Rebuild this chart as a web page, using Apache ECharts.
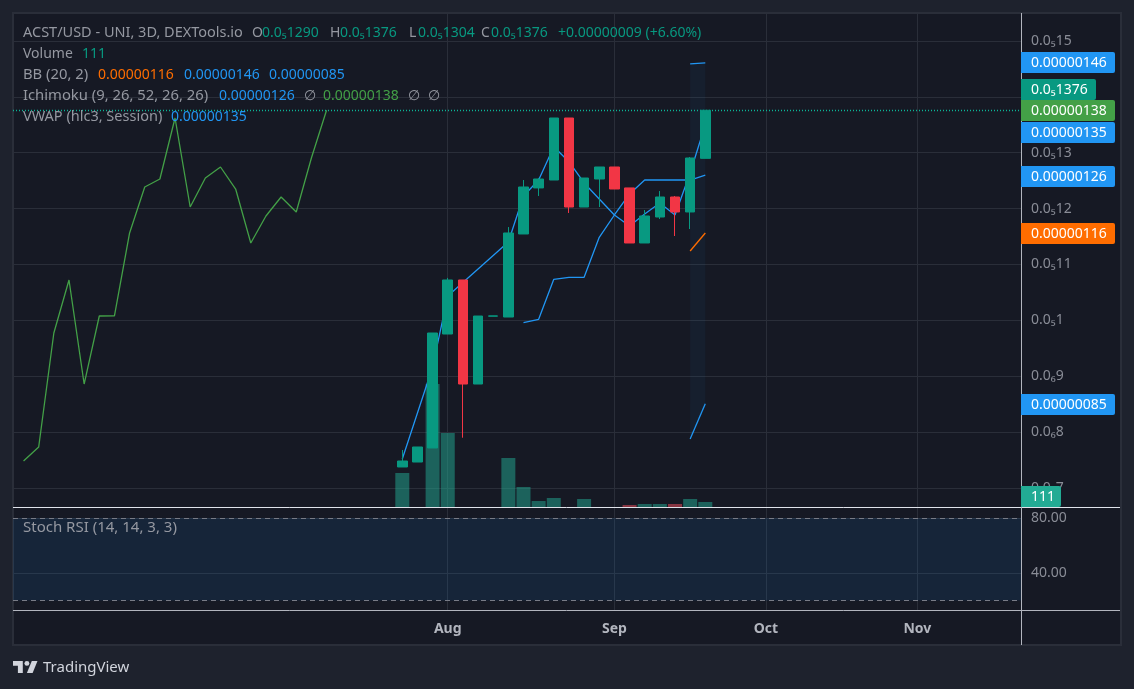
<!DOCTYPE html>
<html>
<head>
<meta charset="utf-8">
<title>ACST/USD</title>
<script src="https://cdn.jsdelivr.net/npm/echarts@6/dist/echarts.min.js"></script>
<style>
html,body{margin:0;padding:0;background:#1e222d;}
#chart{width:1134px;height:689px;}
</style>
</head>
<body>
<div id="chart"></div>
<script>
// prices are in units of 0.00000001
var barIndex = [1,2,3,4,5,6,7,8,9,10,11,12,13,14,15,16,17,18,19,20,21];
var opens  = [73.76,74.65,77.16,97.56,107.23,88.61,100.75,100.6,115.46,123.7,125.12,136.22,120.29,125.3,127.45,123.7,113.85,118.5,122.08,119.4,129.0];
var closes = [74.83,77.34,97.74,107.23,88.61,100.78,100.8,115.64,123.87,125.3,136.22,120.29,125.48,127.45,123.51,113.85,118.68,122.08,119.4,129.06,137.6];
var lows   = [73.76,74.65,77.16,97.56,79.0,88.61,100.75,100.6,115.46,122.26,125.12,119.22,120.29,120.29,123.51,113.85,113.85,118.14,115.1,116.35,129.0];
var highs  = [76.8,77.34,97.74,107.6,107.23,100.78,100.8,116.7,125.12,125.5,136.22,136.22,125.48,127.45,127.45,123.7,119.75,123.15,122.26,129.24,137.6];
var volumes = [755,null,2730,1643,null,null,null,1088,444,133,200,null,178,null,null,44,67,67,67,178,111];

var vwap = [75.19,null,91.66,104.36,null,null,null,114.03,122.26,125.12,131.08,128.4,124.59,121.72,118.86,116.89,119.04,121.01,118.86,126.38,135];
var ichimokuConv = [null,null,null,null,null,null,null,null,99.58,100.19,107.35,107.71,107.71,114.87,118.86,122.62,125.12,125.12,125.12,125.12,126];
var bbUpper = [145.9,146.1];
var bbBasis = [112.42,115.64];
var bbLower = [78.77,85.09];
var bbBars = [20,21];
var laggingShift = 25;

var priceTicks  = [70,80,90,100,110,120,130,140,150];
var priceLabels = ['0.0₆7','0.0₆8','0.0₆9','0.0₅1','0.0₅11','0.0₅12','0.0₅13','','0.0₅15'];
var monthBars   = [4,15,25,35];
var monthLabels = ['Aug','Sep','Oct','Nov'];
var stochTicks  = [40,80];
var stochLabels = ['40.00','80.00'];

var FONT = '"Noto Sans", sans-serif';
var BLUE = '#2196f3', ORANGE = '#ff6d00', GREEN = '#43a047', TEAL = '#089981', RED = '#f23645', GREY = '#9598a1';
var GRID = '#2a2e39';

var myChart = echarts.init(document.getElementById('chart'));

function txt(x, y, s, color, size) {
	return {type: 'text', x: x, y: y + 1, z: 101, silent: true,
		style: {text: s, fill: color || GREY, font: (size || 14) + 'px ' + FONT, verticalAlign: 'middle'}};
}
function tag(y, w, s, color) {
	return [
		{type: 'rect', z: 100, silent: true, shape: {x: 1021, y: y - 10.5, width: w, height: 21, r: [0, 2, 2, 0]}, style: {fill: color}},
		txt(1031, y, s, '#ffffff')
	];
}
function hline(x1, y, x2, color) {
	return {type: 'line', z: 99, silent: true, shape: {x1: x1, y1: y, x2: x2, y2: y}, style: {stroke: color, lineWidth: 1}};
}

var graphics = [
	{type: 'rect', z: -1, silent: true, shape: {x: 13, y: 13, width: 1108, height: 632}, style: {fill: '#161924', stroke: GRID, lineWidth: 2}},
	hline(13, 507.5, 1120, '#e0e3eb'),
	hline(13, 610.5, 1120, '#b2b5be'),
	{type: 'line', z: 99, silent: true, shape: {x1: 1021.5, y1: 13, x2: 1021.5, y2: 645}, style: {stroke: '#b2b5be', lineWidth: 1}},
	{type: 'polygon', z: 100, silent: true, shape: {points: [[22.8,661],[13,661],[13,665.8],[17.9,665.8],[17.9,673],[22.8,673]]}, style: {fill: '#d1d4dc'}},
	{type: 'polygon', z: 100, silent: true, shape: {points: [[32.6,673],[26.9,673],[31.8,661],[37.5,661]]}, style: {fill: '#d1d4dc'}},
	{type: 'circle', z: 100, silent: true, shape: {cx: 26.9, cy: 663.4, r: 2.45}, style: {fill: '#d1d4dc'}},
	txt(43, 667, 'TradingView', '#d1d4dc', 15),

	txt(23, 32, 'ACST/USD - UNI, 3D, DEXTools.io', GREY, 14.5),
	txt(252, 32, 'O'), txt(262, 32, '0.0₅1290', TEAL),
	txt(330, 32, 'H'), txt(340, 32, '0.0₅1376', TEAL),
	txt(409, 32, 'L'), txt(418, 32, '0.0₅1304', TEAL),
	txt(481, 32, 'C'), txt(491, 32, '0.0₅1376', TEAL),
	txt(558, 32, '+0.00000009 (+6.60%)', TEAL),
	txt(23, 53, 'Volume'), txt(82, 53, '111', TEAL),
	txt(23, 74, 'BB (20, 2)', GREY, 14.8), txt(98, 74, '0.00000116', ORANGE), txt(184, 74, '0.00000146', BLUE), txt(269, 74, '0.00000085', BLUE),
	txt(23, 95, 'Ichimoku (9, 26, 52, 26, 26)', GREY, 14.8), txt(219, 95, '0.00000126', BLUE), txt(304, 95, '∅'), txt(323, 95, '0.00000138', GREEN), txt(408, 95, '∅'), txt(428, 95, '∅'),
	txt(23, 116, 'VWAP (hlc3, Session)', GREY, 14.5), txt(171, 116, '0.00000135', BLUE),
	txt(23, 527, 'Stoch RSI (14, 14, 3, 3)', GREY, 15)
].concat(
	tag(62.5, 94, '0.00000146', BLUE),
	tag(89.5, 75, '0.0₅1376', TEAL),
	tag(110.5, 94, '0.00000138', GREEN),
	tag(132.5, 94, '0.00000135', BLUE),
	tag(176.5, 94, '0.00000126', BLUE),
	tag(233.5, 94, '0.00000116', ORANGE),
	tag(404.5, 94, '0.00000085', BLUE)
).concat([
	{type: 'rect', z: 100, silent: true, shape: {x: 1021, y: 486, width: 40, height: 21, r: [0, 2, 2, 0]}, style: {fill: '#22ab94'}},
	txt(1031, 496.5, '111', '#ffffff')
]);

function pairs(values, xs) {
	return values.map(function (v, i) { return [xs ? xs[i] : barIndex[i], v]; });
}
function lineSeries(name, data, color) {
	return {name: name, type: 'line', xAxisIndex: 0, yAxisIndex: 0, data: data, connectNulls: true, z: 3,
		symbol: 'none', lineStyle: {color: color, width: 1.3}};
}
function renderBand(params, api) {
	var pts = [];
	bbBars.forEach(function (b, i) { pts.push(api.coord([b, bbUpper[i]])); });
	bbBars.slice().reverse().forEach(function (b, i) { pts.push(api.coord([b, bbLower[bbBars.length - 1 - i]])); });
	return {type: 'polygon', shape: {points: pts}, style: {fill: 'rgba(33,150,243,0.05)'}};
}

var xRange = {min: -24.696, max: 41.838};
var option = {
	animation: false,
	backgroundColor: '#1e222d',
	textStyle: {fontFamily: FONT},
	graphic: graphics,
	grid: [
		{left: 13, top: 13, width: 1008, height: 494},
		{left: 13, top: 508, width: 1008, height: 102}
	],
	xAxis: [
		{type: 'value', gridIndex: 0, min: xRange.min, max: xRange.max,
			axisLine: {show: false}, axisLabel: {show: false},
			axisTick: {show: false, customValues: monthBars},
			splitLine: {show: true, lineStyle: {color: GRID, width: 1}}},
		{type: 'value', gridIndex: 1, min: xRange.min, max: xRange.max,
			axisLine: {show: false},
			axisTick: {show: false, customValues: monthBars},
			axisLabel: {show: true, customValues: monthBars, margin: 12, color: '#b2b5be', fontSize: 14, fontWeight: 'bold', fontFamily: FONT,
				formatter: function (v) { return monthLabels[monthBars.indexOf(v)]; }},
			splitLine: {show: true, lineStyle: {color: GRID, width: 1}}}
	],
	yAxis: [
		{type: 'value', gridIndex: 0, position: 'right', min: 66.6, max: 155.01,
			axisLine: {show: false},
			axisTick: {show: false, customValues: priceTicks},
			axisLabel: {show: true, customValues: priceTicks, margin: 10, color: '#8a8d97', fontSize: 14, fontFamily: FONT, padding: [5, 0, 0, 0],
				formatter: function (v) { return priceLabels[priceTicks.indexOf(v)]; }},
			splitLine: {show: true, lineStyle: {color: GRID, width: 1}}},
		{type: 'value', gridIndex: 0, position: 'right', min: 0, max: 10967, show: false},
		{type: 'value', gridIndex: 1, position: 'right', min: 13.1, max: 87.3,
			axisLine: {show: false},
			axisTick: {show: false, customValues: stochTicks},
			axisLabel: {show: true, customValues: stochTicks, margin: 10, color: '#8a8d97', fontSize: 14, fontFamily: FONT, padding: [5, 0, 0, 0],
				formatter: function (v) { return stochLabels[stochTicks.indexOf(v)]; }},
			splitLine: {show: true, lineStyle: {color: GRID, width: 1}}}
	],
	series: [
		{name: 'Volume', type: 'bar', xAxisIndex: 0, yAxisIndex: 1, barWidth: 14, z: 2,
			data: volumes.map(function (v, i) {
				return {value: [barIndex[i], v], itemStyle: {color: closes[i] >= opens[i] ? 'rgba(34,171,148,0.5)' : 'rgba(247,82,95,0.5)'}};
			})},
		{name: 'BB band', type: 'custom', xAxisIndex: 0, yAxisIndex: 0, z: 2, renderItem: renderBand, data: [[bbBars[0], bbUpper[0]]]},
		lineSeries('BB upper', pairs(bbUpper, bbBars), BLUE),
		lineSeries('BB basis', pairs(bbBasis, bbBars), ORANGE),
		lineSeries('BB lower', pairs(bbLower, bbBars), BLUE),
		lineSeries('Lagging', closes.map(function (v, i) { return [barIndex[i] - laggingShift, v]; }), GREEN),
		lineSeries('Conversion', pairs(ichimokuConv), BLUE),
		lineSeries('VWAP', pairs(vwap), BLUE),
		{name: 'ACST/USD', type: 'candlestick', xAxisIndex: 0, yAxisIndex: 0, barWidth: 10, z: 6,
			encode: {x: 0, y: [1, 2, 3, 4]},
			data: barIndex.map(function (b, i) { return [b, opens[i], closes[i], lows[i], highs[i]]; }),
			itemStyle: {color: TEAL, color0: RED, borderColor: TEAL, borderColor0: RED, borderColorDoji: TEAL, borderWidth: 1},
			markLine: {silent: true, symbol: 'none', label: {show: false},
				lineStyle: {color: '#0bb596', type: [1, 2], width: 1.3},
				data: [{yAxis: closes[closes.length - 1]}]}},
		{name: 'Stoch RSI', type: 'line', xAxisIndex: 1, yAxisIndex: 2, data: [], symbol: 'none',
			markArea: {silent: true, itemStyle: {color: 'rgba(33,150,243,0.1)'}, data: [[{yAxis: 20}, {yAxis: 80}]]},
			markLine: {silent: true, symbol: 'none', label: {show: false},
				lineStyle: {color: '#787b86', type: [5, 4], width: 1},
				data: [{yAxis: 80}, {yAxis: 20}]}}
	]
};
myChart.setOption(option);
</script>
</body>
</html>
